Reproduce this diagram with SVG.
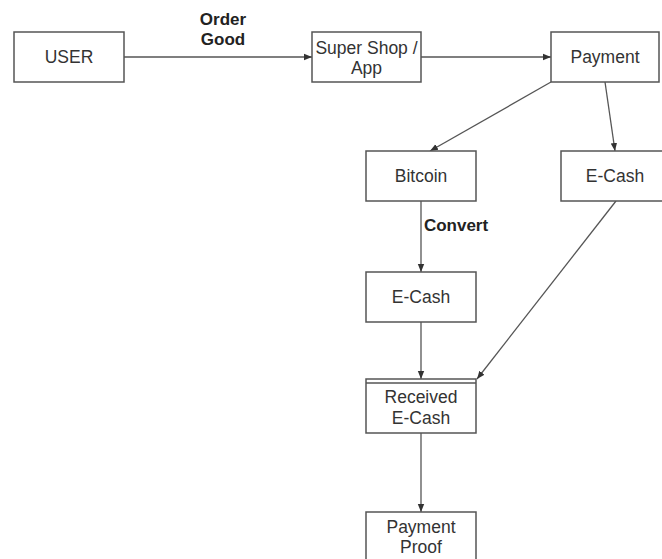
<svg xmlns="http://www.w3.org/2000/svg" width="662" height="559" viewBox="0 0 662 559">
<defs>
<style>
.box{fill:#fff;stroke:#555;stroke-width:1.5}
.t{font-family:"Liberation Sans",Arial,sans-serif;font-size:17.5px;fill:#333;text-anchor:middle}
.lb{font-family:"Liberation Sans",Arial,sans-serif;font-size:17px;font-weight:bold;fill:#222;text-anchor:middle}
.c{stroke:#555;stroke-width:1.3;fill:none;marker-end:url(#ah)}
</style>
<marker id="ah" viewBox="0 0 10 10" refX="10" refY="5" markerWidth="8" markerHeight="8" markerUnits="userSpaceOnUse" orient="auto">
<path d="M0,1 L10,5 L0,9 Z" fill="#333"/>
</marker>
</defs>
<rect width="662" height="559" fill="#fff"/>
<g id="connectors">
<line class="c" x1="124" y1="57" x2="312" y2="57"/>
<line class="c" x1="421" y1="57" x2="551" y2="57"/>
<line class="c" x1="551" y1="82" x2="430" y2="151"/>
<line class="c" x1="605" y1="82" x2="615" y2="151"/>
<line class="c" x1="421" y1="201" x2="421" y2="272"/>
<line class="c" x1="421" y1="322" x2="421" y2="379"/>
<line class="c" x1="616" y1="201" x2="477" y2="379"/>
<line class="c" x1="421" y1="433" x2="421" y2="512"/>
<text class="lb" x="223" y="25">Order</text>
<text class="lb" x="223" y="45">Good</text>
<text class="lb" x="456" y="231">Convert</text>
</g>
<g id="user"><rect class="box" x="14" y="32" width="110" height="50"/><text class="t" x="69" y="63">USER</text></g>
<g id="shop"><rect class="box" x="312" y="32" width="109" height="50"/><text class="t" x="366.500" y="54">Super Shop /</text><text class="t" x="366.500" y="74">App</text></g>
<g id="payment"><rect class="box" x="551" y="32" width="108" height="50"/><text class="t" x="605" y="63">Payment</text></g>
<g id="bitcoin"><rect class="box" x="366" y="151" width="110" height="50"/><text class="t" x="421" y="182">Bitcoin</text></g>
<g id="ecash-right"><rect class="box" x="561" y="151" width="108" height="50"/><text class="t" x="615" y="182">E-Cash</text></g>
<g id="ecash-mid"><rect class="box" x="366" y="272" width="110" height="50"/><text class="t" x="421" y="303">E-Cash</text></g>
<g id="received"><rect class="box" x="366" y="379" width="110" height="54"/><line x1="366" y1="383" x2="476" y2="383" stroke="#555" stroke-width="1.5"/><text class="t" x="421" y="403">Received</text><text class="t" x="421" y="424">E-Cash</text></g>
<g id="proof"><rect class="box" x="366" y="512" width="110" height="52"/><text class="t" x="421" y="533">Payment</text><text class="t" x="421" y="553">Proof</text></g>
</svg>
